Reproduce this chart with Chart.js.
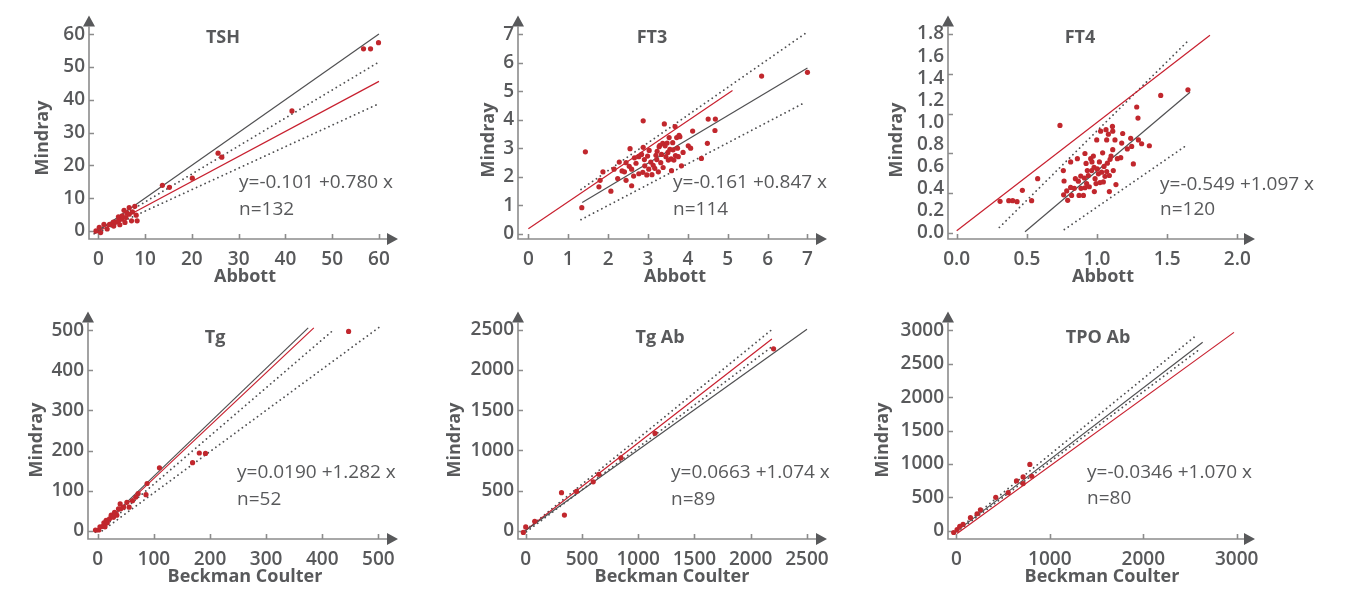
<!DOCTYPE html>
<html>
<head>
<meta charset="utf-8">
<script src="https://cdn.jsdelivr.net/npm/chart.js@4.4.1/dist/chart.umd.min.js"></script>
<style>
  body { margin: 0; background: #fff; width: 1351px; height: 592px; position: relative; overflow: hidden; }
  canvas { position: absolute; }
</style>
</head>
<body>
<canvas id="tsh" width="440" height="296" style="left:0;top:0"></canvas>
<canvas id="ft3" width="420" height="296" style="left:440px;top:0"></canvas>
<canvas id="ft4" width="491" height="296" style="left:860px;top:0"></canvas>
<canvas id="tg" width="440" height="296" style="left:0;top:296px"></canvas>
<canvas id="tgab" width="420" height="296" style="left:440px;top:296px"></canvas>
<canvas id="tpo" width="491" height="296" style="left:860px;top:296px"></canvas>
<script>
// ---- data ----
const tshPoints = [[-0.5,0],[0.2,1.1],[0.5,-0.5],[1.2,2.0],[1.9,0.6],[2.4,2.0],[2.9,2.0],[3.3,1.5],[3.2,2.7],[3.8,2.7],
  [4.3,3.1],[4.3,4.3],[4.6,1.9],[5.0,3.6],[5.1,4.6],[5.5,6.3],[5.7,2.6],[5.9,4.1],[6.1,5.5],[6.6,7.1],[6.6,5.1],
  [7.1,3.1],[7.3,5.8],[7.8,7.5],[8.1,4.8],[8.3,3.1],[13.7,13.9],[15.2,13.3],[20.1,16.1],[25.6,23.7],[26.4,22.5],
  [41.4,36.6],[56.7,55.5],[58.2,55.5],[59.9,57.4]];
const tshIdentity = [[-1,-1],[60,60]];
const tshFit = [[-1,-0.9],[60,45.6]];
const tshUpper = [[0,0.3],[60,51.5]];
const tshLower = [[0,-0.5],[60,38.8]];
const tshXTicks = [0,10,20,30,40,50,60];
const tshYTicks = [0,10,20,30,40,50,60];

const ft3Points = [[1.34,0.91],[1.43,2.87],[1.77,1.64],[1.80,1.87],[1.87,2.17],[2.07,1.49],[2.15,2.26],[2.24,1.93],
  [2.28,2.51],[2.35,2.20],[2.41,2.17],[2.45,2.49],[2.45,1.87],[2.53,2.36],[2.55,2.98],[2.59,2.26],[2.59,1.68],
  [2.64,2.02],[2.66,2.66],[2.70,2.47],[2.77,2.70],[2.77,2.10],[2.84,2.78],[2.87,2.15],[2.88,3.96],[2.88,3.03],
  [2.91,2.60],[2.92,2.38],[2.97,2.06],[2.99,2.72],[3.02,2.26],[3.03,2.92],[3.07,2.51],[3.10,2.07],[3.13,2.40],
  [3.17,2.29],[3.22,2.60],[3.23,2.89],[3.26,2.17],[3.28,3.05],[3.32,2.49],[3.34,2.78],[3.37,3.17],[3.38,2.32],
  [3.41,3.85],[3.43,3.08],[3.45,2.70],[3.48,3.18],[3.51,2.58],[3.53,3.37],[3.55,2.96],[3.58,2.62],[3.59,2.21],
  [3.62,3.19],[3.63,2.94],[3.65,2.58],[3.68,3.76],[3.69,2.74],[3.72,3.37],[3.74,3.00],[3.76,2.70],[3.78,3.45],
  [3.80,3.40],[3.84,2.38],[3.88,2.85],[4.01,3.08],[4.07,3.00],[4.12,3.60],[4.34,2.64],[4.49,3.17],[4.51,4.02],
  [4.68,3.62],[4.69,4.02],[5.85,5.53],[7.0,5.66],[3.30,3.10],[3.50,2.85],[3.20,2.75]];
const ft3Identity = [[0,0.17],[5.12,5.02]];
const ft3Fit = [[1.35,1.09],[7.0,5.81]];
const ft3Upper = [[1.32,1.55],[6.96,7.04]];
const ft3Lower = [[1.32,0.49],[6.96,4.62]];
const ft3XTicks = [0,1,2,3,4,5,6,7];
const ft3YTicks = [0,1,2,3,4,5,6,7];

const ft4Points = [[0.309,0.286],[0.371,0.292],[0.399,0.292],[0.430,0.283],[0.468,0.386],[0.534,0.292],[0.577,0.491],
  [0.736,0.973],[0.760,0.564],[0.762,0.345],[0.765,0.470],[0.784,0.380],[0.791,0.295],[0.812,0.643],[0.812,0.412],
  [0.819,0.339],[0.838,0.404],[0.846,0.491],[0.860,0.672],[0.867,0.468],[0.872,0.339],[0.884,0.515],[0.886,0.404],
  [0.903,0.339],[0.910,0.497],[0.914,0.719],[0.914,0.409],[0.922,0.629],[0.926,0.447],[0.931,0.564],[0.938,0.520],
  [0.945,0.418],[0.955,0.672],[0.962,0.564],[0.964,0.643],[0.974,0.696],[0.979,0.594],[0.981,0.374],[0.986,0.491],
  [0.993,0.447],[0.998,0.842],[1.002,0.579],[1.010,0.535],[1.017,0.643],[1.021,0.456],[1.026,0.921],[1.033,0.550],
  [1.040,0.725],[1.045,0.462],[1.050,0.602],[1.057,0.512],[1.064,0.935],[1.069,0.842],[1.069,0.556],[1.074,0.631],
  [1.081,0.894],[1.088,0.374],[1.088,0.520],[1.093,0.666],[1.100,0.696],[1.110,0.964],[1.112,0.754],[1.112,0.921],
  [1.116,0.564],[1.128,0.842],[1.135,0.438],[1.145,0.672],[1.169,0.681],[1.176,0.813],[1.183,0.900],[1.216,0.760],
  [1.240,0.856],[1.247,0.783],[1.259,0.625],[1.283,1.140],[1.292,1.040],[1.295,0.842],[1.318,0.807],[1.373,0.789],
  [1.454,1.245],[1.648,1.295]];
const ft4Identity = [[0,0.02],[1.805,1.79]];
const ft4Fit = [[0.487,0.01],[1.663,1.274]];
const ft4Upper = [[0.304,0.05],[1.658,1.75]];
const ft4Lower = [[0.767,0.03],[1.646,0.80]];
const ft4XTicks = [0,0.5,1.0,1.5,2.0];
const ft4YTicks = [0,0.2,0.4,0.6,0.8,1.0,1.2,1.4,1.6,1.8];
const ft4YMarks = [0,0.36,0.72,1.08,1.44,1.8];

const tgPoints = [[-4,2],[2,2],[4,10],[9,11],[11,20],[13,10],[15,26],[17,20],[21,30],[24,39],[28,34],[30,46],[34,39],
  [37,55],[40,67],[41,55],[46,59],[52,71],[56,59],[62,75],[68,84],[72,93],[86,90],[88,118],[110,157],[169,170],
  [181,194],[192,193],[447,497]];
const tgIdentity = [[-5,-5],[375,506]];
const tgFit = [[-2,-4],[385,506]];
const tgUpper = [[3,0],[417,497]];
const tgLower = [[8,0],[502,508]];
const tgXTicks = [0,100,200,300,400,500];
const tgYTicks = [0,100,200,300,400,500];

const tgAbPoints = [[-21,-20],[0,49],[80,118],[318,474],[344,196],[451,490],[600,609],[650,703],[846,907],
  [1149,1213],[2203,2263]];
const tgAbIdentity = [[-39,-33],[2500,2508]];
const tgAbFit = [[0,8],[2188,2386]];
const tgAbUpper = [[6,16],[2203,2520]];
const tgAbLower = [[6,-12],[2188,2290]];
const tgAbXTicks = [0,500,1000,1500,2000,2500];
const tgAbYTicks = [0,500,1000,1500,2000,2500];

const tpoPoints = [[-29,-25],[7,20],[36,69],[71,98],[150,197],[221,256],[257,315],[421,502],[554,571],[643,748],
  [714,708],[714,807],[786,994],[807,817]];
const tpoFit = [[-7,-15],[2636,2823]];
const tpoIdentity = [[7,-39],[2971,2971]];
const tpoUpper = [[7,10],[2564,2922]];
const tpoLower = [[7,-15],[2600,2715]];
const tpoXTicks = [0,1000,2000,3000];
const tpoYTicks = [0,500,1000,1500,2000,2500,3000];

// ---- styling ----
const TEXT = '#58595b';
const DOT = '#c1272d';
const RED_LINE = '#c8202f';
const DARK_LINE = '#505052';
const AXIS = '#8c8c8c';
const FONT = '"Open Sans", "Noto Sans", sans-serif';

const panels = [
  { id: 'tsh', title: 'TSH', eq: 'y=-0.101 +0.780 x', n: 'n=132', xTitle: 'Abbott',
    points: tshPoints, dark: tshIdentity, red: tshFit, upper: tshUpper, lower: tshLower,
    xTicks: tshXTicks, yTicks: tshYTicks, dec: 0,
    yw: 89, xh: 57, padTop: 8, padRight: 42, x: [-1.99, 64.07], y: [-2.45, 65.7],
    titleAt: [223, 38], eqAt: [239, 183], nAt: [239, 210], yTitleAt: [43, 138], xTitleAt: [245, 277] },
  { id: 'ft3', title: 'FT3', eq: 'y=-0.161 +0.847 x', n: 'n=114', xTitle: 'Abbott',
    points: ft3Points, dark: ft3Fit, red: ft3Identity, upper: ft3Upper, lower: ft3Lower,
    xTicks: ft3XTicks, yTicks: ft3YTicks, dec: 0,
    yw: 78, xh: 57, padTop: 8, padRight: 33, x: [-0.26, 7.49], y: [-0.19, 7.66],
    titleAt: [212, 38], eqAt: [233, 183], nAt: [233, 210], yTitleAt: [49, 140], xTitleAt: [235, 277] },
  { id: 'ft4', title: 'FT4', eq: 'y=-0.549 +1.097 x', n: 'n=120', xTitle: 'Abbott',
    points: ft4Points, dark: ft4Fit, red: ft4Identity, upper: ft4Upper, lower: ft4Lower,
    xTicks: ft4XTicks, yTicks: ft4YTicks, yMarks: ft4YMarks, dec: 1,
    yw: 88, xh: 57, padTop: 8, padRight: 96, x: [-0.062, 2.126], y: [-0.055, 1.969],
    titleAt: [220, 38], eqAt: [300, 185], nAt: [300, 210], yTitleAt: [37, 140], xTitleAt: [243, 277] },
  { id: 'tg', title: 'Tg', eq: 'y=0.0190 +1.282 x', n: 'n=52', xTitle: 'Beckman Coulter',
    points: tgPoints, dark: tgIdentity, red: tgFit, upper: tgUpper, lower: tgLower,
    xTicks: tgXTicks, yTicks: tgYTicks, dec: 0,
    yw: 88, xh: 53, padTop: 12, padRight: 42, x: [-17.3, 535], y: [-20.4, 547],
    titleAt: [215, 42], eqAt: [237, 177], nAt: [237, 204], yTitleAt: [37, 144], xTitleAt: [245, 281] },
  { id: 'tgab', title: 'Tg Ab', eq: 'y=0.0663 +1.074 x', n: 'n=89', xTitle: 'Beckman Coulter',
    points: tgAbPoints, dark: tgAbIdentity, red: tgAbFit, upper: tgAbUpper, lower: tgAbLower,
    xTicks: tgAbXTicks, yTicks: tgAbYTicks, dec: 0,
    yw: 78, xh: 53, padTop: 12, padRight: 33, x: [-68.6, 2678], y: [-101.7, 2729],
    titleAt: [220, 42], eqAt: [231, 177], nAt: [231, 204], yTitleAt: [15, 144], xTitleAt: [232, 281] },
  { id: 'tpo', title: 'TPO Ab', eq: 'y=-0.0346 +1.070 x', n: 'n=80', xTitle: 'Beckman Coulter',
    points: tpoPoints, dark: tpoFit, red: tpoIdentity, upper: tpoUpper, lower: tpoLower,
    xTicks: tpoXTicks, yTicks: tpoYTicks, dec: 0,
    yw: 88, xh: 53, padTop: 12, padRight: 96, x: [-90, 3196], y: [-122, 3285],
    titleAt: [238, 42], eqAt: [227, 177], nAt: [227, 203], yTitleAt: [23, 144], xTitleAt: [242, 281] }
];

const toXY = arr => arr.map(([x, y]) => ({ x, y }));

// axis titles, panel title, equation under everything else
const textPlugin = {
  id: 'panelText',
  beforeDraw(chart, args, opts) {
    const p = opts.panel, ctx = chart.ctx;
    ctx.save();
    ctx.fillStyle = TEXT;
    ctx.textBaseline = 'middle';
    ctx.textAlign = 'center';
    ctx.font = '700 18px ' + FONT;
    ctx.fillText(p.title, p.titleAt[0], p.titleAt[1]);
    ctx.fillText(p.xTitle, p.xTitleAt[0], p.xTitleAt[1]);
    ctx.save();
    ctx.translate(p.yTitleAt[0], p.yTitleAt[1]);
    ctx.rotate(-Math.PI / 2);
    ctx.fillText('Mindray', 0, 0);
    ctx.restore();
    ctx.textAlign = 'left';
    ctx.font = '400 19px ' + FONT;
    ctx.fillText(p.eq, p.eqAt[0], p.eqAt[1]);
    ctx.fillText(p.n, p.nAt[0], p.nAt[1]);
    ctx.restore();
  }
};

// L-shaped axes with arrowheads and inner tick marks
const axisPlugin = {
  id: 'arrowAxes',
  beforeDatasetsDraw(chart, args, opts) {
    const p = opts.panel, ctx = chart.ctx;
    const { left, right, top, bottom } = chart.chartArea;
    const xs = chart.scales.x, ys = chart.scales.y;
    const head = 11, half = 6, tick = 5;
    ctx.save();
    ctx.strokeStyle = AXIS;
    ctx.lineWidth = 1.6;
    ctx.beginPath();
    ctx.moveTo(left, top + head);
    ctx.lineTo(left, bottom);
    ctx.lineTo(right - head, bottom);
    for (const v of p.xTicks) {
      const px = Math.round(xs.getPixelForValue(v)) + 0.5;
      ctx.moveTo(px, bottom);
      ctx.lineTo(px, bottom - tick);
    }
    for (const v of (p.yMarks || p.yTicks)) {
      const py = Math.round(ys.getPixelForValue(v)) + 0.5;
      ctx.moveTo(left, py);
      ctx.lineTo(left + tick, py);
    }
    ctx.stroke();
    ctx.fillStyle = TEXT;
    ctx.beginPath();
    ctx.moveTo(right, bottom);
    ctx.lineTo(right - head, bottom - half);
    ctx.lineTo(right - head, bottom + half);
    ctx.closePath();
    ctx.moveTo(left, top);
    ctx.lineTo(left - half, top + head);
    ctx.lineTo(left + half, top + head);
    ctx.closePath();
    ctx.fill();
    ctx.restore();
  }
};

function lineSet(pts, color, dotted) {
  return {
    data: toXY(pts), showLine: true, pointRadius: 0, borderColor: color,
    borderWidth: dotted ? 1.8 : 1.2, borderDash: dotted ? [0.1, 4.6] : [],
    borderCapStyle: dotted ? 'round' : 'butt', fill: false
  };
}

for (const p of panels) {
  const ctx = document.getElementById(p.id).getContext('2d');
  const tickFont = { family: FONT, size: 19, weight: '600' };
  new Chart(ctx, {
    type: 'scatter',
    data: {
      datasets: [
        { data: toXY(p.points), backgroundColor: DOT, pointRadius: 2.6, borderWidth: 0 },
        lineSet(p.dark, DARK_LINE, false),
        lineSet(p.red, RED_LINE, false),
        lineSet(p.upper, DARK_LINE, true),
        lineSet(p.lower, DARK_LINE, true)
      ]
    },
    options: {
      responsive: false,
      animation: false,
      events: [],
      clip: false,
      layout: { padding: { top: p.padTop, right: p.padRight, left: 0, bottom: 0 } },
      plugins: {
        legend: { display: false },
        tooltip: { enabled: false },
        panelText: { panel: p },
        arrowAxes: { panel: p }
      },
      scales: {
        x: {
          type: 'linear', min: p.x[0], max: p.x[1],
          grid: { display: false, drawTicks: false },
          border: { display: false },
          ticks: { font: tickFont, color: TEXT, padding: 9, maxRotation: 0, autoSkip: false,
                   callback: v => v.toFixed(p.dec) },
          afterBuildTicks: s => { s.ticks = p.xTicks.map(value => ({ value })); },
          afterFit: s => { s.height = p.xh; }
        },
        y: {
          type: 'linear', min: p.y[0], max: p.y[1],
          grid: { display: false, drawTicks: false },
          border: { display: false },
          ticks: { font: tickFont, color: TEXT, padding: 4, autoSkip: false,
                   callback: v => v.toFixed(p.dec) },
          afterBuildTicks: s => { s.ticks = p.yTicks.map(value => ({ value })); },
          afterFit: s => { s.width = p.yw; }
        }
      }
    },
    plugins: [textPlugin, axisPlugin]
  });
}
</script>
</body>
</html>
